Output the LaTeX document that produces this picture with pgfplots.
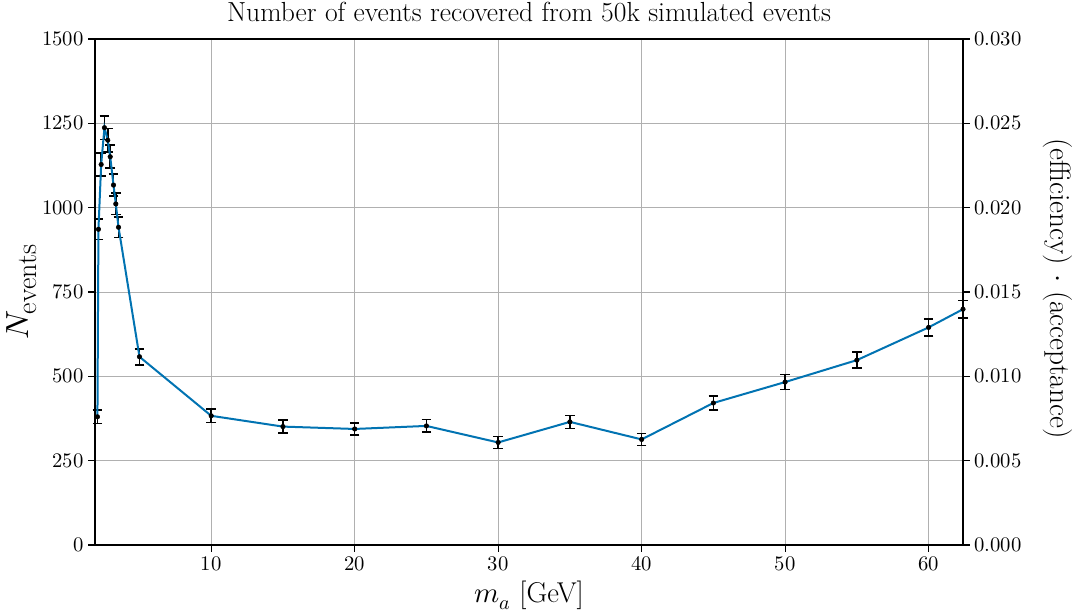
\documentclass[border=0pt]{standalone}
\usepackage{fontspec}
\usepackage{unicode-math}
\setmathfont{Latin Modern Math}
\usepackage{pgfplots}
\usepackage{pgfplotstable}
\pgfplotsset{compat=1.18}
\definecolor{mblue}{RGB}{1,115,178}
\definecolor{gridc}{RGB}{176,176,176}
\pgfplotstableread{
x N e
2.07 380 19.5
2.14 936 30.6
2.33 1128 33.6
2.56 1237 35.2
2.79 1200 34.6
2.96 1151 33.9
3.19 1067 32.7
3.35 1011 31.8
3.54 942 30.7
5 558 23.6
10 383 19.6
15 351 18.7
20 344 18.5
25 353 18.8
30 304 17.4
35 365 19.1
40 313 17.7
45 421 20.5
50 483 22.0
55 548 23.4
60 645 25.4
62.4 699 26.4
}\data
\begin{document}
\begin{tikzpicture}
\begin{axis}[
 scale only axis, width=651pt, height=379.5pt,
 xmin=1.9, xmax=62.4, ymin=0, ymax=1500,
 xtick={10,20,30,40,50,60}, ytick={0,250,500,750,1000,1250,1500},
 grid=major, major grid style={gridc, line width=0.6pt},
 axis line style={line width=0.8pt},
 tick align=outside, major tick length=5pt,
 tick style={black, line width=0.8pt},
 xtick pos=bottom, ytick pos=left,
 ticklabel style={font=\fontsize{15.5}{18}\selectfont},
 scaled y ticks=false, yticklabel style={/pgf/number format/1000 sep={}},
 xlabel={$m_a$ [GeV]}, ylabel={$N_{\mbox{\fontsize{21}{24}\selectfont events}}$},
 xlabel style={font=\fontsize{21.5}{25}\selectfont, at={(axis description cs:0.5,-0.099)}, anchor=center},
 ylabel style={font=\fontsize{24}{28}\selectfont, at={(axis description cs:-0.0841,0.5)}, anchor=center},
 title={Number of events recovered from 50k simulated events},
 title style={font=\fontsize{20.7}{24}\selectfont, at={(axis description cs:0.5,1.0343)}, anchor=base, yshift=-6pt},
 clip=false,
]
\coordinate (SW) at (rel axis cs:0,0);
\coordinate (NE) at (rel axis cs:1,1);
\addplot[only marks, mark=*, mark size=1.7pt, black,
  error bars/.cd, y dir=both, y explicit,
  error bar style={black, line width=1.2pt},
  error mark options={rotate=90, mark size=3.6pt, line width=1.2pt, black}]
  table[x=x, y=N, y error=e] {\data};
\addplot[mblue, line width=1.5pt, mark=none] table[x=x, y=N] {\data};
\end{axis}
\begin{axis}[
 scale only axis, width=651pt, height=379.5pt,
 xmin=1.9, xmax=62.4, ymin=0, ymax=0.03,
 axis x line=none, axis y line*=right,
 axis line style={line width=0.8pt},
 tick align=outside, major tick length=5pt,
 tick style={black, line width=0.8pt},
 ytick={0,0.005,0.01,0.015,0.02,0.025,0.03},
 scaled y ticks=false,
 yticklabel style={font=\fontsize{15.5}{18}\selectfont, /pgf/number format/.cd, fixed, fixed zerofill, precision=3},
 ylabel={(efficiency) $\cdot$ (acceptance)},
 ylabel style={font=\fontsize{22}{26}\selectfont, at={(axis description cs:1.1089,0.507)}, anchor=center, rotate=180},
]
\addplot[draw=none, forget plot] coordinates {(10,0.01)};
\end{axis}
\pgfresetboundingbox
\path[use as bounding box] ([shift={(-71.25pt,-49.5pt)}]SW) rectangle ([shift={(82.5pt,29.25pt)}]NE);
\end{tikzpicture}
\end{document}
